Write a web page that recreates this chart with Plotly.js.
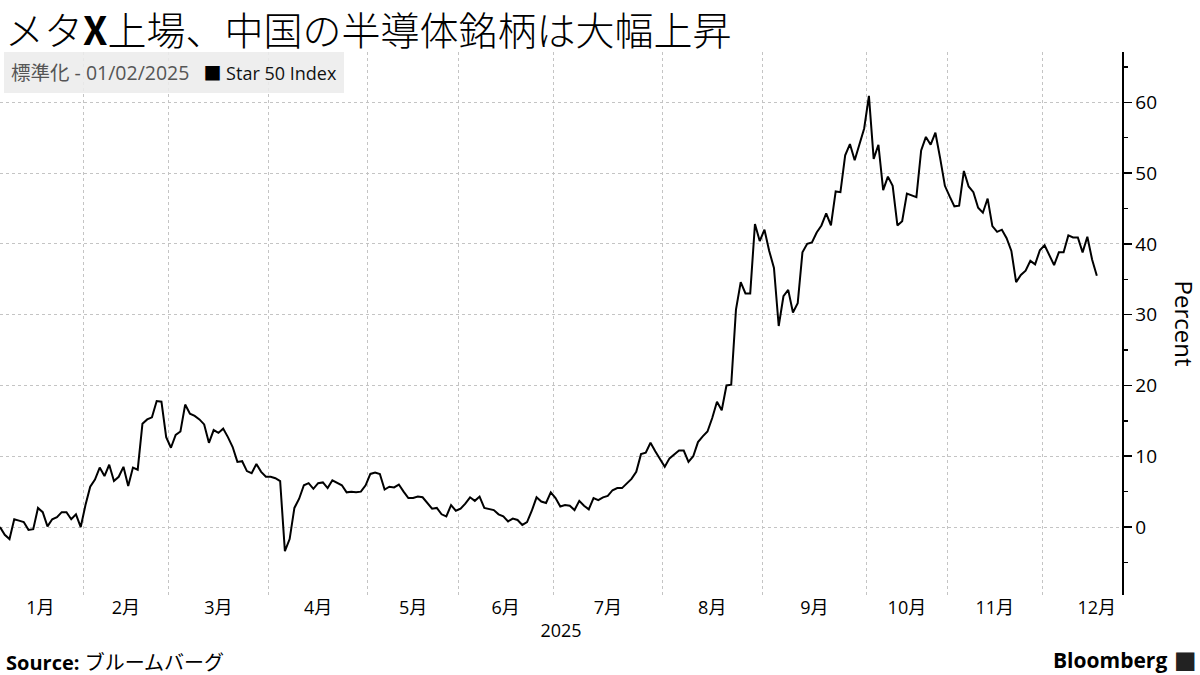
<!DOCTYPE html>
<html>
<head>
<meta charset="utf-8">
<script src="https://cdn.plot.ly/plotly-3.0.1.min.js"></script>
<style>
  html, body { margin: 0; padding: 0; background: #fff; }
  #chart { width: 1200px; height: 675px; }
</style>
</head>
<body>
<div id="chart"></div>
<script>
// Star 50 Index, standardized to 01/02/2025 (percent), one value per trading day
const star50 = [
  0.0, -1.1, -1.7, 1.1, 0.9, 0.7, -0.4, -0.3, 2.7, 2.1,
  0.1, 1.1, 1.4, 2.1, 2.1, 1.1, 1.8, 0.0, 3.1, 5.7,
  6.7, 8.4, 7.2, 8.8, 6.5, 7.1, 8.5, 5.8, 8.4, 8.1,
  14.6, 15.2, 15.5, 17.8, 17.7, 12.7, 11.2, 13.0, 13.5, 17.3,
  16.0, 15.7, 15.2, 14.5, 11.9, 13.7, 13.3, 13.9, 12.7, 11.3,
  9.2, 9.3, 7.9, 7.6, 8.9, 7.8, 7.1, 7.1, 6.9, 6.5,
  -3.4, -1.7, 2.7, 4.0, 5.9, 6.2, 5.4, 6.2, 6.3, 5.5,
  6.6, 6.3, 5.9, 4.9, 5.0, 4.9, 5.0, 5.9, 7.5, 7.7,
  7.5, 5.3, 5.7, 5.6, 6.0, 5.0, 4.1, 4.1, 4.3, 4.2,
  3.4, 2.6, 2.7, 1.8, 1.5, 3.1, 2.3, 2.6, 3.3, 4.2,
  3.7, 4.3, 2.7, 2.6, 2.4, 1.8, 1.5, 0.8, 1.2, 1.0,
  0.3, 0.7, 2.3, 4.2, 3.6, 3.4, 4.9, 4.1, 2.9, 3.1,
  3.0, 2.4, 3.7, 3.0, 2.5, 4.1, 3.8, 4.2, 4.4, 5.2,
  5.5, 5.5, 6.2, 6.8, 7.8, 10.3, 10.5, 11.9, 10.7, 9.6,
  8.5, 9.7, 10.3, 10.8, 10.8, 9.2, 10.0, 12.0, 12.8, 13.5,
  15.4, 17.7, 16.5, 20.0, 20.1, 30.7, 34.6, 33.0, 33.0, 42.8,
  40.4, 42.0, 39.0, 36.6, 28.4, 32.6, 33.5, 30.3, 31.6, 38.8,
  40.0, 40.2, 41.6, 42.6, 44.3, 42.6, 47.4, 47.3, 52.5, 54.1,
  51.8, 53.9, 56.3, 60.9, 52.0, 54.0, 47.6, 49.5, 48.2, 42.6,
  43.2, 47.1, 46.9, 46.6, 53.2, 55.1, 54.0, 55.7, 52.1, 48.2,
  46.7, 45.3, 45.4, 50.3, 48.1, 47.3, 45.1, 44.4, 46.4, 42.5,
  41.7, 42.0, 40.8, 39.0, 34.6, 35.6, 36.2, 37.6, 37.1, 39.1,
  39.8, 38.4, 37.0, 38.8, 38.8, 41.2, 40.9, 40.9, 38.8, 41.0,
  37.8, 35.5
];

// Month tick labels and number of trading days per month (Shanghai STAR market, 2025)
const monthLabels = ["1月","2月","3月","4月","5月","6月","7月","8月","9月","10月","11月","12月"];
const monthTradingDays = [18, 18, 21, 21, 19, 20, 23, 21, 22, 17, 20, 23];

const seriesName = "Star 50 Index";
const legendNote = "標準化 - 01/02/2025";
const titleText = "メタ<b>X</b>上場、中国の半導体銘柄は大幅上昇";
const yearLabel = "2025";

// derived positions (trading-day index)
const xIdx = star50.map((_, i) => i);
const monthStarts = [];
let acc = 0;
monthTradingDays.forEach(d => { monthStarts.push(acc); acc += d; });
const labelPos = monthStarts.map((s, k) => s + (monthTradingDays[k] - 1) / 2);
const boundaryPos = monthStarts.slice(1).map(s => s - 0.5);

const latin = "Open Sans, Noto Sans CJK JP, sans-serif";
const cjk = "Noto Sans CJK JP, sans-serif";

const trace = {
  x: xIdx,
  y: star50,
  type: "scatter",
  mode: "lines",
  name: seriesName,
  line: { color: "#000000", width: 2 },
  showlegend: false,
  hoverinfo: "skip"
};

const layout = {
  width: 1200,
  height: 675,
  paper_bgcolor: "#ffffff",
  plot_bgcolor: "#ffffff",
  margin: { l: 0, r: 78, t: 52, b: 80 },
  title: {
    text: titleText,
    font: { family: cjk, size: 39, weight: 300, color: "#000" },
    x: 5 / 1200, xanchor: "left", xref: "container",
    y: 1 - 31 / 675, yanchor: "middle", yref: "container"
  },
  xaxis: {
    range: [0, 236.3],
    tickmode: "array",
    tickvals: labelPos,
    ticktext: monthLabels,
    ticks: "",
    showgrid: false,
    zeroline: false,
    showline: false,
    tickfont: { family: latin, size: 18, color: "#000" },
    title: { text: yearLabel, font: { family: latin, size: 18, color: "#000" }, standoff: 6 },
    minor: {
      tickmode: "array",
      tickvals: boundaryPos,
      ticks: "",
      showgrid: true,
      gridcolor: "#c4c4c4",
      gridwidth: 1,
      griddash: "dot"
    },
    fixedrange: true
  },
  yaxis: {
    side: "right",
    range: [-9.6, 67.1],
    tickmode: "linear",
    tick0: 0,
    dtick: 10,
    ticks: "outside",
    ticklen: 8,
    tickwidth: 1.5,
    tickcolor: "#000",
    showline: true,
    linecolor: "#000",
    linewidth: 1.5,
    showgrid: true,
    gridcolor: "#c4c4c4",
    gridwidth: 1,
    griddash: "dot",
    zeroline: false,
    tickfont: { family: latin, size: 19, color: "#000" },
    minor: {
      dtick: 5,
      tick0: 0,
      ticks: "outside",
      ticklen: 4,
      tickwidth: 1.5,
      tickcolor: "#000",
      showgrid: false
    },
    fixedrange: true
  },
  annotations: [
    {
      text: '<span style="color:#555555;font-size:19.5px">' + legendNote + '</span>   <span style="color:#000">■</span> ' + seriesName,
      xref: "paper", yref: "paper",
      x: 0.0035, y: 1.0, xanchor: "left", yanchor: "top",
      showarrow: false,
      align: "left",
      font: { family: latin, size: 18, color: "#111" },
      bgcolor: "rgba(236,236,236,0.88)",
      borderpad: 7,
      borderwidth: 0
    },
    {
      text: "Percent",
      xref: "paper", yref: "paper",
      x: 1 + 62 / 1122, y: 0.5, xanchor: "center", yanchor: "middle",
      textangle: 90,
      showarrow: false,
      font: { family: latin, size: 24, color: "#000" }
    },
    {
      text: "<b>Source:</b> ブルームバーグ",
      xref: "paper", yref: "paper",
      x: 0.004, y: -(662 - 595) / 543, xanchor: "left", yanchor: "middle",
      showarrow: false,
      font: { family: latin, size: 20, color: "#000" }
    },
    {
      text: "<b>Bloomberg</b>",
      xref: "paper", yref: "paper",
      x: 1169 / 1122, y: -(660 - 595) / 543, xanchor: "right", yanchor: "middle",
      showarrow: false,
      font: { family: latin, size: 21, color: "#000" }
    },
    {
      text: "■",
      xref: "paper", yref: "paper",
      x: 1185 / 1122, y: -(660 - 595) / 543, xanchor: "center", yanchor: "middle",
      showarrow: false,
      font: { family: "DejaVu Sans, sans-serif", size: 24, color: "#222" }
    }
  ]
};

Plotly.newPlot("chart", [trace], layout, { staticPlot: true, displayModeBar: false });
</script>
</body>
</html>
